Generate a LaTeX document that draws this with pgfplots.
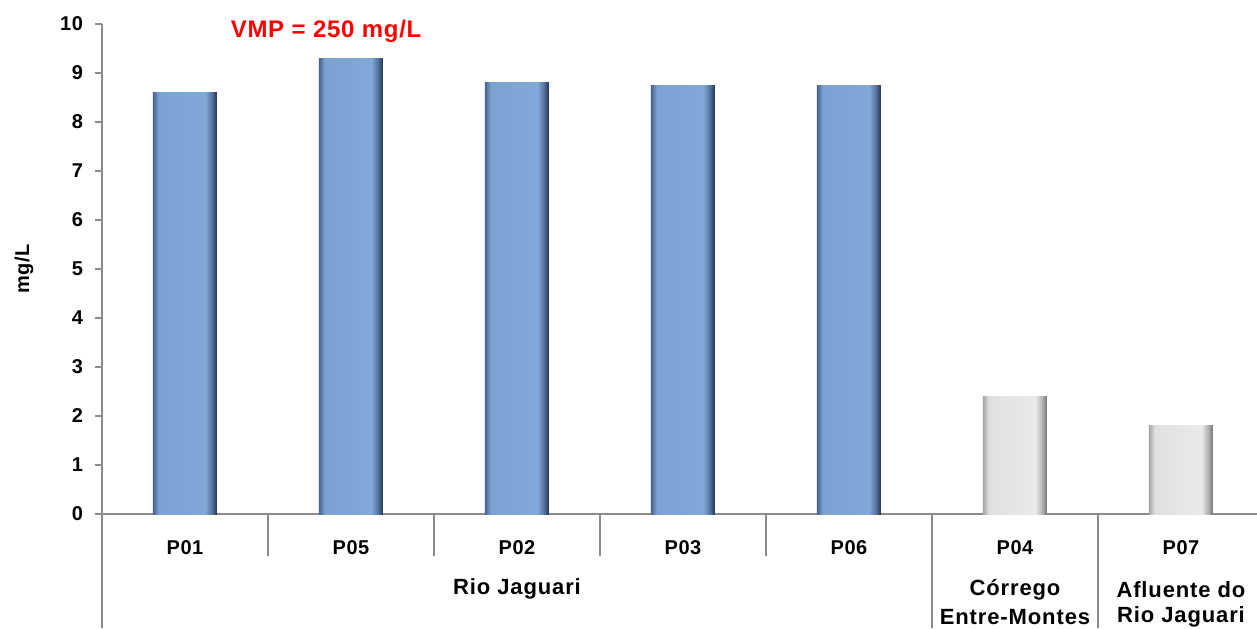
\documentclass[border=0pt]{standalone}
\usepackage{pgfplots}
\pgfplotsset{compat=1.18}
\usepackage{fontspec}
\setmainfont{Liberation Sans}
\newfontfamily\spA{Liberation Sans}[LetterSpace=3]
\newfontfamily\spB{Liberation Sans}[LetterSpace=4]
\definecolor{axgray}{HTML}{8C8C8C}
\definecolor{vmpred}{HTML}{FF0000}
\definecolor{bA}{RGB}{70,100,140}
\definecolor{bB}{RGB}{122,162,210}
\definecolor{bC}{RGB}{128,168,216}
\definecolor{bD}{RGB}{84,114,156}
\definecolor{bE}{RGB}{36,52,76}
\definecolor{gA}{RGB}{165,165,165}
\definecolor{gB}{RGB}{224,224,224}
\definecolor{gC}{RGB}{234,234,234}
\definecolor{gD}{RGB}{180,180,180}
\definecolor{gE}{RGB}{115,115,115}
\pgfdeclarehorizontalshading{bluebar}{100bp}{color(0bp)=(bA); color(25bp)=(bA); color(29.5bp)=(bB); color(66bp)=(bC); color(71bp)=(bD); color(75bp)=(bE); color(100bp)=(bE)}
\pgfdeclarehorizontalshading{greybar}{100bp}{color(0bp)=(gA); color(25bp)=(gA); color(29.5bp)=(gB); color(66bp)=(gC); color(71bp)=(gD); color(75bp)=(gE); color(100bp)=(gE)}
\pgfplotsset{bluestyle/.style={ybar, bar shift=0pt, draw=none, shading=bluebar},
             greystyle/.style={ybar, bar shift=0pt, draw=none, shading=greybar}}
\begin{document}
\begin{tikzpicture}
\useasboundingbox (-51pt,-57pt) rectangle (577.5pt,257pt);
\begin{axis}[
  at={(0,0)}, anchor=south west,
  scale only axis,
  width=577.5pt, height=245pt,
  xmin=-0.5, xmax=6.458,
  ymin=0, ymax=10,
  ytick={0,1,...,10},
  xtick={0,1,2,3,4,5,6},
  xticklabels={P01,P05,P02,P03,P06,P04,P07},
  axis x line=bottom, axis y line=left,
  axis line style={draw=axgray, line width=0.75pt, -},
  x axis line style={-},
  y axis line style={-},
  tick align=outside,
  major tick length=3.5pt,
  ytick style={draw=axgray, line width=0.75pt},
  xtick style={draw=none},
  font=\spA\bfseries\fontsize{10}{12}\selectfont,
  ticklabel style={font=\spA\bfseries\fontsize{10}{12}\selectfont},
  yticklabel style={xshift=-2.5pt},
  xticklabel style={yshift=-6pt},
  /pgf/number format/assume math mode=true,
  ylabel={mg/L},
  ylabel style={at={(axis description cs:-0.0675,0.5)}, anchor=center, font=\spA\bfseries\fontsize{10}{12}\selectfont},
  clip=false,
  bar width=32pt,
]
\addplot[bluestyle] coordinates {(0,8.6)};
\addplot[bluestyle] coordinates {(1,9.3)};
\addplot[bluestyle] coordinates {(2,8.8)};
\addplot[bluestyle] coordinates {(3,8.75)};
\addplot[bluestyle] coordinates {(4,8.75)};
\addplot[greystyle] coordinates {(5,2.4)};
\addplot[greystyle] coordinates {(6,1.8)};
\draw[axgray, line width=0.75pt] (axis cs:-0.5,0) -- ([yshift=-57pt]axis cs:-0.5,0);
\draw[axgray, line width=0.75pt] (axis cs:0.5,0) -- ([yshift=-21pt]axis cs:0.5,0);
\draw[axgray, line width=0.75pt] (axis cs:1.5,0) -- ([yshift=-21pt]axis cs:1.5,0);
\draw[axgray, line width=0.75pt] (axis cs:2.5,0) -- ([yshift=-21pt]axis cs:2.5,0);
\draw[axgray, line width=0.75pt] (axis cs:3.5,0) -- ([yshift=-21pt]axis cs:3.5,0);
\draw[axgray, line width=0.75pt] (axis cs:4.5,0) -- ([yshift=-57pt]axis cs:4.5,0);
\draw[axgray, line width=0.75pt] (axis cs:5.5,0) -- ([yshift=-57pt]axis cs:5.5,0);
\node[font=\spB\bfseries\fontsize{11}{13}\selectfont] at (axis cs:2,0) [yshift=-37.5pt] {Rio Jaguari};
\node[font=\spB\bfseries\fontsize{11}{13}\selectfont] at (axis cs:5,0) [yshift=-38pt] {Córrego};
\node[font=\spB\bfseries\fontsize{11}{13}\selectfont] at (axis cs:5,0) [yshift=-51.5pt] {Entre-Montes};
\node[font=\spB\bfseries\fontsize{11}{13}\selectfont] at (axis cs:6,0) [yshift=-38pt] {Afluente do};
\node[font=\spB\bfseries\fontsize{11}{13}\selectfont] at (axis cs:6,0) [yshift=-51.5pt] {Rio Jaguari};
\node[text=vmpred, font=\spA\bfseries\fontsize{12}{14}\selectfont] at (axis cs:0.85,9.84) {VMP = 250 mg/L};
\end{axis}
\end{tikzpicture}
\end{document}
